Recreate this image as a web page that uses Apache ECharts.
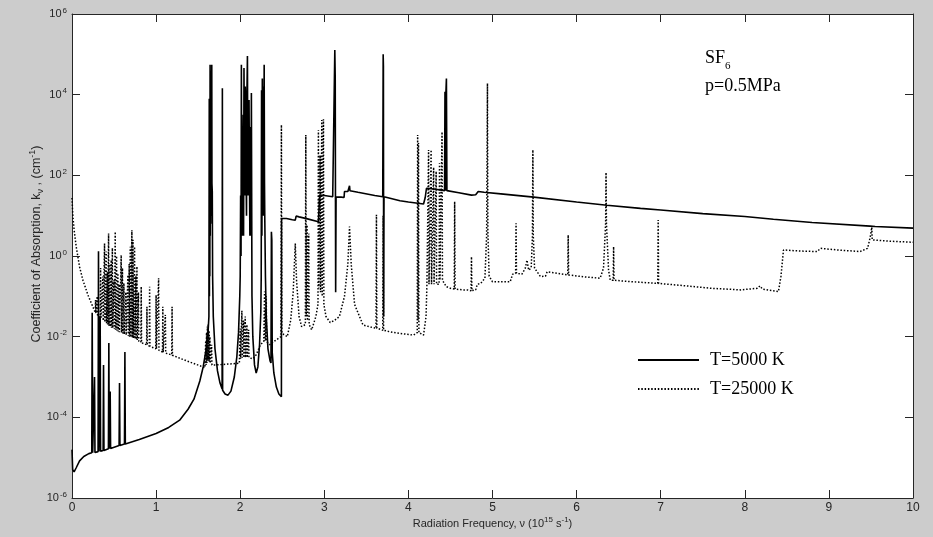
<!DOCTYPE html>
<html>
<head>
<meta charset="utf-8">
<script src="https://cdn.jsdelivr.net/npm/echarts@6/dist/echarts.min.js"></script>
<style>
html,body{margin:0;padding:0;background:#cccccc;}
#chart{width:933px;height:537px;}
</style>
</head>
<body>
<div id="chart"></div>
<script>
// Values: x = radiation frequency (10^15 s^-1), y = log10 of absorption coefficient k (cm^-1)
const xTicks = [0,1,2,3,4,5,6,7,8,9,10];
const yTickExponents = [-6,-4,-2,0,2,4,6];
const seriesNames = ['T=5000 K', 'T=25000 K'];

const pointsT5000 = [
[0.000,-4.80],[0.008,-5.30],[0.025,-5.35],[0.05,-5.25],[0.09,-5.08],[0.14,-4.97],[0.20,-4.90],[0.235,-4.88],
[0.240,-1.41],[0.246,-4.88],
[0.263,-4.87],[0.268,-3.00],[0.273,-4.87],
[0.310,-4.85],[0.315,0.12],[0.320,-4.85],
[0.330,-4.84],[0.335,-1.50],[0.340,-4.84],
[0.370,-4.82],[0.375,-2.70],[0.380,-4.82],
[0.433,-4.78],[0.438,-2.16],[0.443,-4.78],
[0.449,-4.77],[0.454,-3.36],[0.459,-4.77],
[0.560,-4.70],[0.565,-3.15],[0.570,-4.70],
[0.624,-4.66],[0.629,-2.38],[0.634,-4.66],
[0.80,-4.55],[1.00,-4.40],[1.15,-4.25],[1.28,-4.07],[1.38,-3.80],[1.45,-3.55],[1.52,-3.10],[1.56,-2.75],[1.60,-2.25],[1.62,-1.80],
[1.628,-1.50],[1.632,3.90],[1.634,-1.00],[1.637,3.60],[1.639,-0.50],[1.642,4.74],[1.644,0.50],[1.647,4.60],[1.649,0.80],[1.652,4.50],[1.654,1.00],[1.657,4.40],[1.659,1.50],[1.662,4.74],[1.664,1.80],[1.668,1.60],[1.672,-0.50],[1.680,-1.50],[1.70,-2.30],[1.73,-2.85],[1.76,-3.15],[1.785,-3.30],[1.788,4.16],[1.791,-3.33],[1.82,-3.42],[1.855,-3.45],[1.89,-3.35],[1.93,-3.00],[1.96,-2.50],[1.98,-1.90],[1.995,-1.00],
[2.000,-0.50],[2.005,1.50],[2.010,0.00],[2.014,4.74],[2.018,1.00],[2.022,3.20],[2.026,0.50],[2.030,2.00],[2.036,3.50],[2.040,0.50],[2.045,4.66],[2.050,2.50],[2.055,1.50],[2.060,4.20],[2.065,3.80],[2.070,2.00],[2.075,1.00],[2.080,4.00],[2.086,4.96],[2.090,2.50],[2.095,1.50],[2.105,3.87],[2.110,2.00],[2.115,0.50],[2.125,3.20],[2.128,0.50],[2.133,4.04],[2.140,-1.00],[2.150,-2.00],[2.17,-2.70],[2.19,-2.90],[2.21,-2.75],[2.23,-2.20],[2.245,-1.40],
[2.250,-0.50],[2.254,4.11],[2.258,0.50],[2.263,4.40],[2.268,1.50],[2.272,2.50],[2.276,4.20],[2.278,1.00],[2.285,4.74],[2.289,1.80],[2.292,1.00],[2.300,-0.50],[2.31,-1.50],[2.33,-2.30],[2.355,-2.60],
[2.366,-2.65],[2.371,0.60],[2.376,0.40],[2.381,-2.40],[2.40,-2.90],[2.43,-3.25],[2.46,-3.42],[2.49,-3.49],
[2.492,0.93],[2.55,0.93],[2.62,0.90],[2.655,0.89],[2.665,0.99],[2.70,0.97],[2.80,0.92],[2.93,0.85],[2.945,1.51],[3.00,1.50],[3.10,1.47],
[3.120,1.46],[3.125,5.11],[3.130,4.40],[3.135,-0.90],[3.140,1.46],
[3.20,1.46],[3.235,1.45],[3.240,1.60],[3.28,1.60],[3.300,1.74],[3.305,1.62],[3.40,1.58],[3.60,1.50],
[3.695,1.47],[3.700,5.00],[3.703,4.70],[3.706,-1.50],[3.710,1.47],
[3.90,1.37],[4.00,1.34],[4.18,1.29],[4.200,1.45],[4.215,1.68],[4.30,1.66],[4.430,1.62],[4.435,4.07],[4.440,1.62],[4.445,4.00],[4.452,4.40],[4.458,1.62],
[4.60,1.57],[4.75,1.51],[4.80,1.52],[4.830,1.60],[4.90,1.58],[5.10,1.54],[5.49,1.46],[6.00,1.34],[6.36,1.26],[6.76,1.18],[7.00,1.14],[7.50,1.05],[8.00,0.98],[8.34,0.91],[8.80,0.83],[9.49,0.74],[9.55,0.73],[10.00,0.69]
];

const pointsT25000 = [
[0.000,1.44],[0.010,1.00],[0.025,0.65],[0.05,0.23],[0.09,-0.27],[0.13,-0.60],[0.19,-0.97],[0.248,-1.26],[0.276,-1.40],
[0.280,-1.09],[0.284,-1.42],[0.296,-1.45],[0.300,-1.00],[0.304,-1.47],
[0.336,-1.52],[0.340,-0.30],[0.344,-1.55],[0.363,-1.58],[0.367,-0.51],[0.371,-1.60],
[0.383,-1.62],[0.387,0.31],[0.391,-1.64],[0.403,-1.66],[0.407,0.11],[0.411,-1.67],
[0.416,-1.68],[0.420,-0.40],[0.424,-1.70],[0.431,-1.72],[0.435,0.56],[0.439,-1.73],
[0.446,-1.74],[0.450,-0.20],[0.454,-1.75],[0.462,-1.77],[0.466,-0.10],[0.470,-1.78],
[0.476,-1.79],[0.480,0.20],[0.484,-1.79],[0.496,-1.80],[0.500,-0.60],[0.504,-1.81],
[0.510,-1.82],[0.514,0.60],[0.518,-1.83],[0.526,-1.84],[0.530,0.00],[0.534,-1.85],
[0.542,-1.86],[0.546,-0.43],[0.550,-1.87],[0.556,-1.88],[0.560,-0.70],[0.564,-1.89],
[0.581,-1.90],[0.585,0.02],[0.589,-1.90],[0.596,-1.91],[0.600,-0.30],[0.604,-1.92],
[0.613,-1.93],[0.617,-0.68],[0.621,-1.94],[0.636,-1.95],[0.640,-0.90],[0.644,-1.96],
[0.661,-1.98],[0.665,-0.47],[0.669,-1.98],[0.676,-1.99],[0.680,-0.20],[0.684,-2.00],
[0.689,-2.00],[0.693,0.23],[0.697,-2.01],[0.708,-2.02],[0.712,0.64],[0.716,-2.02],
[0.721,-2.03],[0.725,0.40],[0.729,-2.04],[0.740,-2.05],[0.744,0.23],[0.748,-2.05],
[0.756,-2.06],[0.760,-0.50],[0.764,-2.07],[0.768,-2.08],[0.772,-0.26],[0.776,-2.08],
[0.786,-2.10],[0.790,-0.90],[0.794,-2.11],[0.819,-2.14],[0.823,-0.76],[0.827,-2.15],
[0.887,-2.20],[0.891,-1.26],[0.895,-2.21],[0.919,-2.23],[0.923,-0.76],[0.927,-2.24],
[0.996,-2.30],[1.000,-0.97],[1.004,-2.31],[1.026,-2.33],[1.030,-0.55],[1.034,-2.34],
[1.076,-2.38],[1.080,-1.26],[1.084,-2.39],[1.106,-2.40],[1.110,-1.46],[1.114,-2.41],
[1.186,-2.45],[1.190,-1.26],[1.194,-2.46],
[1.30,-2.55],[1.44,-2.66],[1.52,-2.72],[1.580,-2.77],
[1.590,-2.10],[1.594,-2.70],[1.600,-1.90],[1.604,-2.65],[1.610,-1.75],[1.614,-2.60],[1.620,-1.70],[1.624,-2.60],[1.630,-1.85],[1.634,-2.62],[1.640,-2.00],[1.644,-2.66],[1.660,-2.20],[1.664,-2.70],
[1.72,-2.70],[1.85,-2.68],[1.990,-2.66],
[2.000,-1.80],[2.004,-2.55],[2.020,-1.36],[2.024,-2.52],[2.040,-1.60],[2.044,-2.52],[2.060,-1.50],[2.064,-2.52],[2.080,-1.70],[2.084,-2.52],[2.100,-1.83],[2.104,-2.52],
[2.15,-2.55],[2.19,-2.45],[2.24,-2.20],[2.280,-2.12],
[2.290,-0.88],[2.294,-2.10],[2.300,-1.30],[2.304,-2.10],[2.310,-1.00],[2.314,-2.12],
[2.35,-2.20],[2.40,-2.12],[2.485,-2.00],[2.490,3.25],[2.495,-1.90],
[2.52,-1.95],[2.56,-2.00],[2.60,-1.60],[2.63,-0.90],[2.655,0.31],[2.67,-0.60],[2.70,-1.50],[2.73,-1.75],
[2.775,-1.70],[2.780,3.00],[2.785,-1.50],[2.795,0.77],[2.800,-1.60],[2.815,0.56],[2.820,-1.70],[2.85,-1.83],[2.90,-1.50],
[2.925,-1.20],[2.930,3.12],[2.935,-0.80],[2.950,2.50],[2.955,-0.90],[2.970,3.37],[2.975,-1.00],[2.990,3.39],[2.995,-1.20],
[3.02,-1.50],[3.07,-1.65],[3.12,-1.60],[3.18,-1.50],[3.24,-1.00],[3.28,-0.20],[3.30,0.73],[3.32,-0.20],[3.36,-1.20],[3.46,-1.71],[3.55,-1.76],
[3.615,-1.79],[3.620,1.02],[3.625,-1.79],[3.695,-1.84],[3.700,1.00],[3.705,-1.84],
[3.78,-1.88],[3.90,-1.92],[4.06,-1.96],
[4.105,-1.90],[4.110,3.00],[4.115,-1.60],[4.120,2.80],[4.125,-1.90],[4.18,-1.96],
[4.210,-1.50],[4.220,-0.72],
[4.235,-0.68],[4.240,2.63],[4.245,-0.70],[4.265,-0.70],[4.270,2.63],[4.275,-0.70],[4.295,-0.70],[4.300,2.20],[4.305,-0.70],
[4.325,-0.70],[4.330,2.10],[4.335,-0.70],[4.365,-0.70],[4.370,2.30],[4.375,-0.60],[4.395,-0.60],[4.400,3.08],[4.405,-0.60],
[4.45,-0.76],[4.50,-0.80],[4.545,-0.82],[4.550,1.35],[4.555,-0.82],[4.65,-0.84],[4.70,-0.84],
[4.745,-0.86],[4.750,-0.02],[4.755,-0.86],
[4.80,-0.84],[4.82,-0.70],[4.86,-0.68],[4.91,-0.55],[4.930,0.50],[4.940,4.28],[4.945,0.60],[4.96,-0.50],[5.00,-0.64],[5.09,-0.64],[5.21,-0.64],[5.24,-0.45],
[5.275,-0.43],[5.280,0.81],[5.285,-0.43],[5.35,-0.45],[5.39,-0.30],[5.41,-0.10],[5.43,-0.35],[5.46,-0.30],
[5.475,0.50],[5.480,2.63],[5.485,0.50],[5.50,-0.30],[5.57,-0.51],[5.63,-0.50],[5.65,-0.39],[5.75,-0.42],
[5.895,-0.47],[5.900,0.52],[5.905,-0.47],[6.10,-0.52],[6.28,-0.55],[6.32,-0.30],[6.345,0.80],[6.350,2.07],[6.355,0.80],[6.38,-0.35],[6.40,-0.60],
[6.435,-0.60],[6.440,0.23],[6.445,-0.60],[6.55,-0.62],[6.68,-0.64],[6.965,-0.68],[6.970,0.89],[6.975,-0.68],
[7.30,-0.74],[7.60,-0.80],[7.95,-0.84],[8.15,-0.80],[8.18,-0.74],[8.21,-0.82],[8.40,-0.88],[8.43,-0.50],[8.46,0.15],
[8.60,0.13],[8.70,0.12],[8.86,0.11],[8.90,0.19],[9.10,0.15],[9.37,0.11],[9.46,0.19],[9.49,0.45],[9.51,0.71],[9.515,0.40],[9.53,0.40],[9.70,0.37],[10.00,0.34]
];

const chart = echarts.init(document.getElementById('chart'), null, {renderer: 'canvas'});
const sansFont = 'Liberation Sans, Arial, sans-serif';
const serifFont = 'Liberation Serif, Times New Roman, serif';
const axisColor = '#262626';

const supRich = {
  b: {fontFamily: sansFont, fontSize: 11, color: axisColor, lineHeight: 15},
  s: {fontFamily: sansFont, fontSize: 8, color: axisColor, lineHeight: 9, verticalAlign: 'top', padding: [0,0,0,1]}
};
const xNameRich = {
  n: {fontFamily: sansFont, fontSize: 11, color: axisColor, lineHeight: 16},
  s: {fontFamily: sansFont, fontSize: 8, color: axisColor, lineHeight: 9, verticalAlign: 'top'}
};
const yNameRich = {
  n: {fontFamily: sansFont, fontSize: 12.5, color: axisColor, lineHeight: 17},
  s: {fontFamily: sansFont, fontSize: 9, color: axisColor, lineHeight: 10, verticalAlign: 'top'},
  u: {fontFamily: sansFont, fontSize: 9, color: axisColor, lineHeight: 10, verticalAlign: 'bottom'}
};

const option = {
  animation: false,
  backgroundColor: '#cccccc',
  grid: {left: 72, right: 20, top: 14, bottom: 39, show: true, backgroundColor: '#ffffff', borderWidth: 0, containLabel: false},
  legend: {
    left: 632, top: 346, orient: 'vertical', itemWidth: 61, itemHeight: 14, itemGap: 11,
    data: seriesNames,
    itemStyle: {color: 'rgba(0,0,0,0)', borderWidth: 0, opacity: 0},
    textStyle: {fontFamily: serifFont, fontSize: 18, color: '#000', padding: [0,0,0,6]},
    selectedMode: false
  },
  xAxis: [{
    type: 'value', min: xTicks[0], max: xTicks[xTicks.length-1], interval: 1, position: 'bottom',
    name: '{n|Radiation Frequency, ν (10}{s|15}{n| s}{s|-1}{n|)}',
    nameLocation: 'middle', nameGap: 18, nameMoveOverlap: false,
    nameTextStyle: {rich: xNameRich},
    axisLine: {show: true, onZero: false, lineStyle: {color: axisColor, width: 1}},
    axisTick: {show: true, inside: true, length: 8, lineStyle: {color: axisColor}},
    axisLabel: {margin: 4, fontFamily: sansFont, fontSize: 12, color: axisColor},
    splitLine: {show: false}
  }, {
    type: 'value', min: xTicks[0], max: xTicks[xTicks.length-1], interval: 1, position: 'top',
    axisLine: {show: true, onZero: false, lineStyle: {color: axisColor, width: 1}},
    axisTick: {show: true, inside: true, length: 8, lineStyle: {color: axisColor}},
    axisLabel: {show: false}, splitLine: {show: false}
  }],
  yAxis: [{
    type: 'value', min: yTickExponents[0], max: yTickExponents[yTickExponents.length-1], interval: 2, position: 'left',
    name: '{n|Coefficient of Absorption, k}{u|ν}{n| , (cm}{s|-1}{n|)}',
    nameLocation: 'middle', nameGap: 27, nameRotate: 90, nameMoveOverlap: false,
    nameTextStyle: {rich: yNameRich, padding: [0,0,0,24]},
    axisLine: {show: true, onZero: false, lineStyle: {color: axisColor, width: 1}},
    axisTick: {show: true, inside: true, length: 8, lineStyle: {color: axisColor}},
    axisLabel: {margin: 5, formatter: v => '{b|10}{s|' + v + '}', rich: supRich},
    splitLine: {show: false}
  }, {
    type: 'value', min: yTickExponents[0], max: yTickExponents[yTickExponents.length-1], interval: 2, position: 'right',
    axisLine: {show: true, onZero: false, lineStyle: {color: axisColor, width: 1}},
    axisTick: {show: true, inside: true, length: 8, lineStyle: {color: axisColor}},
    axisLabel: {show: false}, splitLine: {show: false}
  }],
  graphic: [{
    type: 'text', left: 705, top: 49,
    style: {
      text: '{a|SF}{b|6}\n{a|p=0.5MPa}',
      rich: {
        a: {fontFamily: serifFont, fontSize: 18, fill: '#000', lineHeight: 28},
        b: {fontFamily: serifFont, fontSize: 11, fill: '#000', lineHeight: 28, verticalAlign: 'bottom'}
      }
    }
  }],
  series: [{
    name: seriesNames[0], type: 'line', data: pointsT5000, xAxisIndex: 0, yAxisIndex: 0,
    symbol: 'none', clip: true,
    lineStyle: {color: '#000', width: 1.6, type: 'solid'},
    itemStyle: {color: '#000'}
  }, {
    name: seriesNames[1], type: 'line', data: pointsT25000, xAxisIndex: 0, yAxisIndex: 0,
    symbol: 'none', clip: true,
    lineStyle: {color: '#000', width: 1.5, type: [1.5, 1.8]},
    itemStyle: {color: '#000'}
  }]
};
chart.setOption(option);
</script>
</body>
</html>
